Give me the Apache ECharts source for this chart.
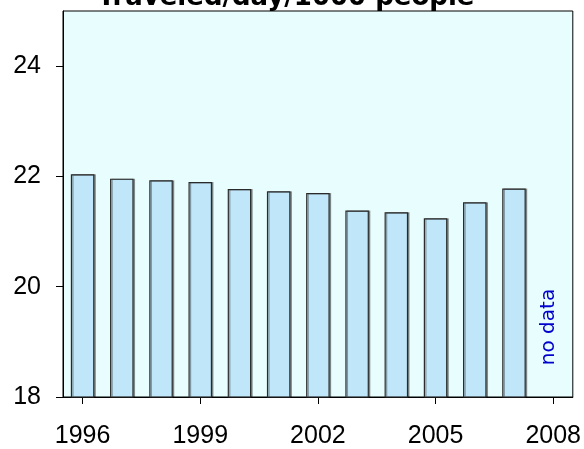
<!DOCTYPE html>
<html>
<head>
<meta charset="utf-8">
<script src="https://cdn.jsdelivr.net/npm/echarts@6/dist/echarts.min.js"></script>
<style>
  html, body { margin: 0; padding: 0; background: #fff; }
  #main { width: 584px; height: 449px; }
</style>
</head>
<body>
<div id="main"></div>
<script>
// data
var years = ['1996', '1997', '1998', '1999', '2000', '2001', '2002',
             '2003', '2004', '2005', '2006', '2007', '2008'];
var values = [22.04, 21.96, 21.93, 21.90, 21.77, 21.73, 21.70,
              21.38, 21.35, 21.24, 21.53, 21.78, null];
var yTicks = [18, 20, 22, 24];
var titleText = 'Traveled/day/1000 people';
var noteText = 'no data';

var myChart = echarts.init(document.getElementById('main'));

var option = {
    animation: false,
    backgroundColor: '#ffffff',
    grid: {
        left: 63, right: 11, top: 11, bottom: 50,
        show: true,
        backgroundColor: '#e8fdfd',
        borderColor: '#000',
        borderWidth: 1
    },
    graphic: [
        {
            type: 'text',
            x: 286, y: 11,
            style: {
                text: titleText,
                fill: '#000',
                font: 'bold 26px "DejaVu Sans", sans-serif',
                textAlign: 'center',
                textVerticalAlign: 'bottom'
            }
        },
        {
            type: 'text',
            x: 549, y: 327,
            rotation: Math.PI / 2,
            style: {
                text: noteText,
                fill: '#0000cc',
                font: '20px "DejaVu Sans", sans-serif',
                textAlign: 'center',
                textVerticalAlign: 'middle'
            }
        }
    ],
    xAxis: {
        type: 'category',
        data: years,
        boundaryGap: true,
        axisLine: { show: true, lineStyle: { color: '#000', width: 1 } },
        axisTick: {
            show: true, alignWithLabel: true, interval: 2, length: 7,
            lineStyle: { color: '#000' }
        },
        axisLabel: {
            interval: 2, margin: 27, color: '#000',
            fontSize: 25, fontFamily: '"Liberation Sans", Arial, sans-serif'
        },
        splitLine: { show: false }
    },
    yAxis: {
        type: 'value',
        min: 18, max: 25,
        axisLine: { show: true, lineStyle: { color: '#000', width: 1 } },
        axisTick: {
            show: true, length: 7, customValues: yTicks,
            lineStyle: { color: '#000' }
        },
        axisLabel: {
            customValues: yTicks, margin: 22, color: '#000',
            fontSize: 25, fontFamily: '"Liberation Sans", Arial, sans-serif'
        },
        splitLine: { show: false }
    },
    series: [
        {
            type: 'bar',
            data: values,
            barCategoryGap: '40%',
            itemStyle: {
                color: '#c0e7f9',
                borderColor: '#2a2a2a',
                borderWidth: 1.2,
                shadowColor: 'rgba(0,0,0,0.35)',
                shadowOffsetX: 1.5,
                shadowOffsetY: 0,
                shadowBlur: 0
            }
        }
    ]
};
myChart.setOption(option);
</script>
</body>
</html>
